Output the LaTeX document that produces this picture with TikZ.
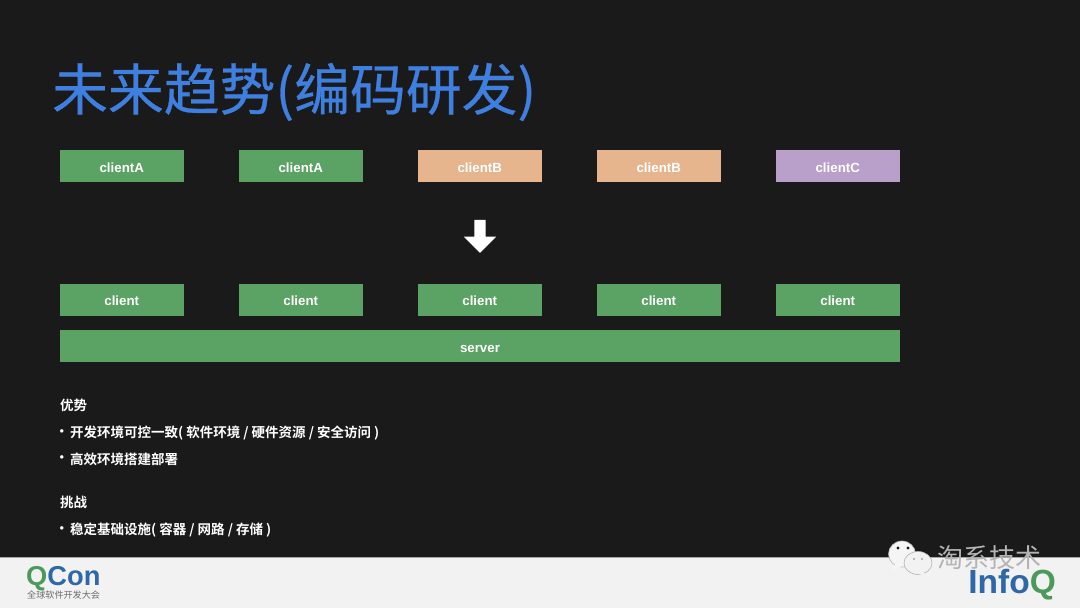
\documentclass[tikz,border=0pt]{standalone}
\usepackage{fontspec}
\usepackage{xcolor}
\setmainfont{Liberation Sans}
\newfontfamily\cjkfont{Noto Sans CJK SC}
\newfontfamily\cjktitle[FakeBold=0.5]{Noto Sans CJK SC}
\newfontfamily\cjkbold{Noto Sans CJK SC Bold}
\usetikzlibrary{positioning, arrows.meta, shapes.arrows}
\definecolor{slidebg}{HTML}{1A1A1A}
\definecolor{footbg}{HTML}{F2F2F2}
\definecolor{titleblue}{HTML}{3F7FE0}
\definecolor{boxgreen}{HTML}{5BA265}
\definecolor{boxorange}{HTML}{E6B58E}
\definecolor{boxpurple}{HTML}{B9A0CB}
\definecolor{logogreen}{HTML}{4C9A5A}
\definecolor{logoblue}{HTML}{2F68A8}
\definecolor{markgray}{HTML}{B4B4B4}

\begin{document}
\begin{tikzpicture}[
    x=1pt, y=1pt,
    node distance=55.5pt,
    box/.style={rectangle, inner sep=0pt, outer sep=0pt, minimum width=123.5pt, minimum height=32pt, align=center, text height=11.5pt, text depth=0pt, font=\fontsize{13.3}{15}\selectfont\bfseries, text=white, fill=#1},
    bodytext/.style={anchor=west, inner sep=0pt, text=white, font=\fontsize{13.5}{16}\cjkbold},
    bubble/.style={draw=gray!60, line width=0.6pt, fill=#1},
]
\useasboundingbox (0,0) rectangle (1080,608);
\fill[slidebg] (0,0) rectangle (1080,608);
\fill[footbg] (0,0) rectangle (1080,51);
\draw[gray!70, line width=0.7pt] (0,51) -- (1080,51);

\node[anchor=west, inner sep=0pt, text=titleblue, font=\fontsize{55.8}{60}\cjktitle] (title) at (52,516) {未来趋势(编码研发)};

% top row
\node[box=boxgreen] (topa) at (121.75,441.5) {clientA};
\node[box=boxgreen, right=of topa] (topb) {clientA};
\node[box=boxorange, right=of topb] (topc) {clientB};
\node[box=boxorange, right=of topc] (topd) {clientB};
\node[box=boxpurple, right=of topd] (tope) {clientC};

% bottom row
\node[box=boxgreen] (cla) at (121.75,308) {client};
\node[box=boxgreen, right=of cla] (clb) {client};
\node[box=boxgreen, right=of clb] (clc) {client};
\node[box=boxgreen, right=of clc] (cld) {client};
\node[box=boxgreen, right=of cld] (cle) {client};
\node[box=boxgreen, minimum width=840pt, anchor=west] (server) at (60,261.5) {server};

\node[single arrow, fill=white, inner xsep=0pt, inner ysep=5.5pt, rotate=-90, minimum width=32pt, minimum height=33pt, single arrow head extend=10.5pt, single arrow head indent=0pt] (down) at (480,374.5) {};

% text block
\node[bodytext] (adv) at (60,203) {优势};
\node[bodytext] (advdota) at (55,175) {·};
\node[bodytext] (adva) at (70,175) {开发环境可控一致( 软件环境 / 硬件资源 / 安全访问 )};
\node[bodytext] (advdotb) at (55,148.5) {·};
\node[bodytext] (advb) at (70,148.5) {高效环境搭建部署};
\node[bodytext] (chal) at (60,105.5) {挑战};
\node[bodytext] (chaldot) at (55,77.5) {·};
\node[bodytext] (chala) at (70,77.5) {稳定基础设施( 容器 / 网路 / 存储 )};

% logos
\node[anchor=west, inner sep=0pt, font=\fontsize{27.3}{30}\selectfont\bfseries] (qcon) at (26,29) {\textcolor{logogreen}{Q}\textcolor{logoblue}{Con}};
\node[anchor=west, inner sep=0pt, text=gray!85!black, font=\fontsize{9.1}{10}\cjkfont] (qconsub) at (27,13) {全球软件开发大会};
\node[anchor=east, inner sep=0pt, font=\fontsize{33.5}{34}\selectfont\bfseries] (infoq) at (1056,23) {\textcolor{logoblue}{Info}\textcolor{logogreen}{Q}};

% watermark
\fill[bubble=white!92!gray] (902,54) ellipse (13.5pt and 13pt);
\fill[white!92!gray] (896,46) -- (892,37) -- (904,43) -- cycle;
\fill[bubble=footbg] (918,45) ellipse (14pt and 11.5pt);
\fill[footbg] (922,37) -- (926,32) -- (915,35) -- cycle;
\fill[slidebg] (898,60) circle (1.6pt) (908,60) circle (1.6pt);
\fill[gray!70] (914,49) circle (1.2pt) (922,49) circle (1.2pt);
\node[anchor=west, inner sep=0pt, text=markgray, font=\fontsize{26}{27}\cjkfont] (mark) at (937,50) {淘系技术};
\end{tikzpicture}
\end{document}
